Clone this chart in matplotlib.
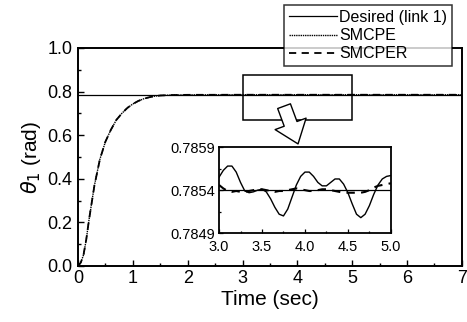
import matplotlib
matplotlib.use("Agg")
import matplotlib.pyplot as plt
from matplotlib.patches import Rectangle, FancyArrowPatch

plt.rcParams['font.family'] = ['Liberation Sans', 'DejaVu Sans']

# Main plot data
t_main = [0, 0.05, 0.1, 0.15, 0.2, 0.3, 0.4, 0.5, 0.6, 0.7, 0.8, 0.9, 1.0, 1.1, 1.2,
          1.3, 1.4, 1.5, 1.7, 2.0, 3.0, 4.0, 5.0, 6.0, 7.0]
smcpe_main = [0, 0.015, 0.05, 0.12, 0.21, 0.37, 0.49, 0.57, 0.625, 0.67, 0.70, 0.725,
              0.743, 0.757, 0.767, 0.774, 0.779, 0.782, 0.784, 0.785, 0.7855, 0.7856,
              0.7855, 0.7854, 0.7854]
smcper_main = [0, 0.015, 0.05, 0.12, 0.21, 0.37, 0.49, 0.57, 0.625, 0.67, 0.70, 0.725,
               0.743, 0.757, 0.767, 0.774, 0.779, 0.782, 0.784, 0.785, 0.7854, 0.7854,
               0.7854, 0.7854, 0.7854]
t_desired = [0, 7]
desired = [0.7854, 0.7854]

# Inset data (zoom 3-5 s)
t_zoom = [3.00, 3.05, 3.10, 3.15, 3.20, 3.25, 3.30, 3.35, 3.40, 3.45, 3.50, 3.55, 3.60,
          3.65, 3.70, 3.75, 3.80, 3.85, 3.90, 3.95, 4.00, 4.05, 4.10, 4.15, 4.20, 4.25,
          4.30, 4.35, 4.40, 4.45, 4.50, 4.55, 4.60, 4.65, 4.70, 4.75, 4.80, 4.85, 4.90,
          4.95, 5.00]
smcpe_zoom = [0.78555, 0.78563, 0.78568, 0.78568, 0.78561, 0.78549, 0.78539, 0.78537,
              0.78538, 0.78540, 0.78541, 0.78538, 0.78530, 0.78520, 0.78512, 0.78510,
              0.78518, 0.78532, 0.78546, 0.78556, 0.78561, 0.78561, 0.78556, 0.78549,
              0.78545, 0.78545, 0.78549, 0.78553, 0.78553, 0.78547, 0.78537, 0.78524,
              0.78512, 0.78508, 0.78512, 0.78522, 0.78535, 0.78546, 0.78553, 0.78556,
              0.78557]
smcper_zoom = [0.78546, 0.78542, 0.78539, 0.78538, 0.78539, 0.78538, 0.78538, 0.78539,
               0.78540, 0.78541, 0.78541, 0.78540, 0.78539, 0.78538, 0.78539, 0.78539,
               0.78540, 0.78541, 0.78542, 0.78541, 0.78540, 0.78539, 0.78539, 0.78540,
               0.78541, 0.78541, 0.78540, 0.78539, 0.78538, 0.78537, 0.78537, 0.78537,
               0.78537, 0.78537, 0.78538, 0.78540, 0.78543, 0.78545, 0.78546, 0.78547,
               0.78548]
desired_zoom = [0.78540, 0.78540]
t_desired_zoom = [3.0, 5.0]

x_ticks = [0, 1, 2, 3, 4, 5, 6, 7]
y_ticks = [0.0, 0.2, 0.4, 0.6, 0.8, 1.0]
x_ticks_zoom = [3.0, 3.5, 4.0, 4.5, 5.0]
y_ticks_zoom = [0.7849, 0.7854, 0.7859]

fig = plt.figure(figsize=(4.67, 3.22), dpi=100)
ax = fig.add_axes([0.167, 0.174, 0.822, 0.677])

l1, = ax.plot(t_desired, desired, color='black', lw=0.9, label='Desired (link 1)')
l2, = ax.plot(t_main, smcpe_main, color='black', lw=1.0, ls=(0, (1, 0.6)), label='SMCPE')
l3, = ax.plot(t_main, smcper_main, color='black', lw=1.3, ls=(0, (4, 3)), label='SMCPER')

ax.set_xlim(0, 7)
ax.set_ylim(0, 1.0)
ax.set_xticks(x_ticks)
ax.set_yticks(y_ticks)
ax.set_xticklabels([str(v) for v in x_ticks])
ax.set_yticklabels([f"{v:.1f}" for v in y_ticks])
ax.set_xticks([0.5 + i for i in range(7)], minor=True)
ax.set_yticks([0.1, 0.3, 0.5, 0.7, 0.9], minor=True)
ax.tick_params(which='both', direction='in', labelsize=13, width=1.0)
ax.tick_params(which='major', length=4)
ax.tick_params(which='minor', length=2)
ax.tick_params(axis='x', pad=3)
ax.tick_params(axis='y', pad=4)
for s in ax.spines.values():
    s.set_linewidth(1.4)
ax.set_xlabel('Time (sec)', fontsize=15, labelpad=2)
ax.set_ylabel(r'$\theta_1$ (rad)', fontsize=15, labelpad=3)

# zoom rectangle and arrow
ax.add_patch(Rectangle((3.0, 0.67), 2.0, 0.206, fill=False, edgecolor='black', lw=1.1))
arrow = FancyArrowPatch((3.74, 0.745), (4.03, 0.548),
                        arrowstyle='simple,head_width=1.7,head_length=1.1,tail_width=0.7',
                        mutation_scale=14, facecolor='white', edgecolor='black', lw=1.0,
                        zorder=5)
ax.add_patch(arrow)

# legend
leg = fig.legend(handles=[l1, l2, l3], loc='upper right', bbox_to_anchor=(0.968, 0.984),
                 fontsize=11.5, frameon=True, fancybox=False, edgecolor='black',
                 handlelength=3.0, handletextpad=0.15, borderpad=0.3, labelspacing=0.2,
                 borderaxespad=0)
leg.get_frame().set_linewidth(1.1)
leg.set_zorder(10)

# inset
axin = fig.add_axes([0.469, 0.276, 0.368, 0.267])
axin.plot(t_desired_zoom, desired_zoom, color='black', lw=0.9)
axin.plot(t_zoom, smcpe_zoom, color='black', lw=1.0)
axin.plot(t_zoom, smcper_zoom, color='black', lw=1.5, ls=(0, (4, 3)))
axin.set_xlim(3.0, 5.0)
axin.set_ylim(0.7849, 0.7859)
axin.set_xticks(x_ticks_zoom)
axin.set_yticks(y_ticks_zoom)
axin.set_xticklabels([f"{v:.1f}" for v in x_ticks_zoom])
axin.set_yticklabels([f"{v:.4f}" for v in y_ticks_zoom])
axin.set_xticks([3.25, 3.75, 4.25, 4.75], minor=True)
axin.set_yticks([0.78515, 0.78565], minor=True)
axin.tick_params(which='both', direction='in', labelsize=10.5, width=0.9)
axin.tick_params(axis='x', pad=5)
axin.tick_params(axis='y', pad=3)
axin.tick_params(which='major', length=3)
axin.tick_params(which='minor', length=1.5)
for s in axin.spines.values():
    s.set_linewidth(1.3)

fig.savefig('out.png', dpi=100)
